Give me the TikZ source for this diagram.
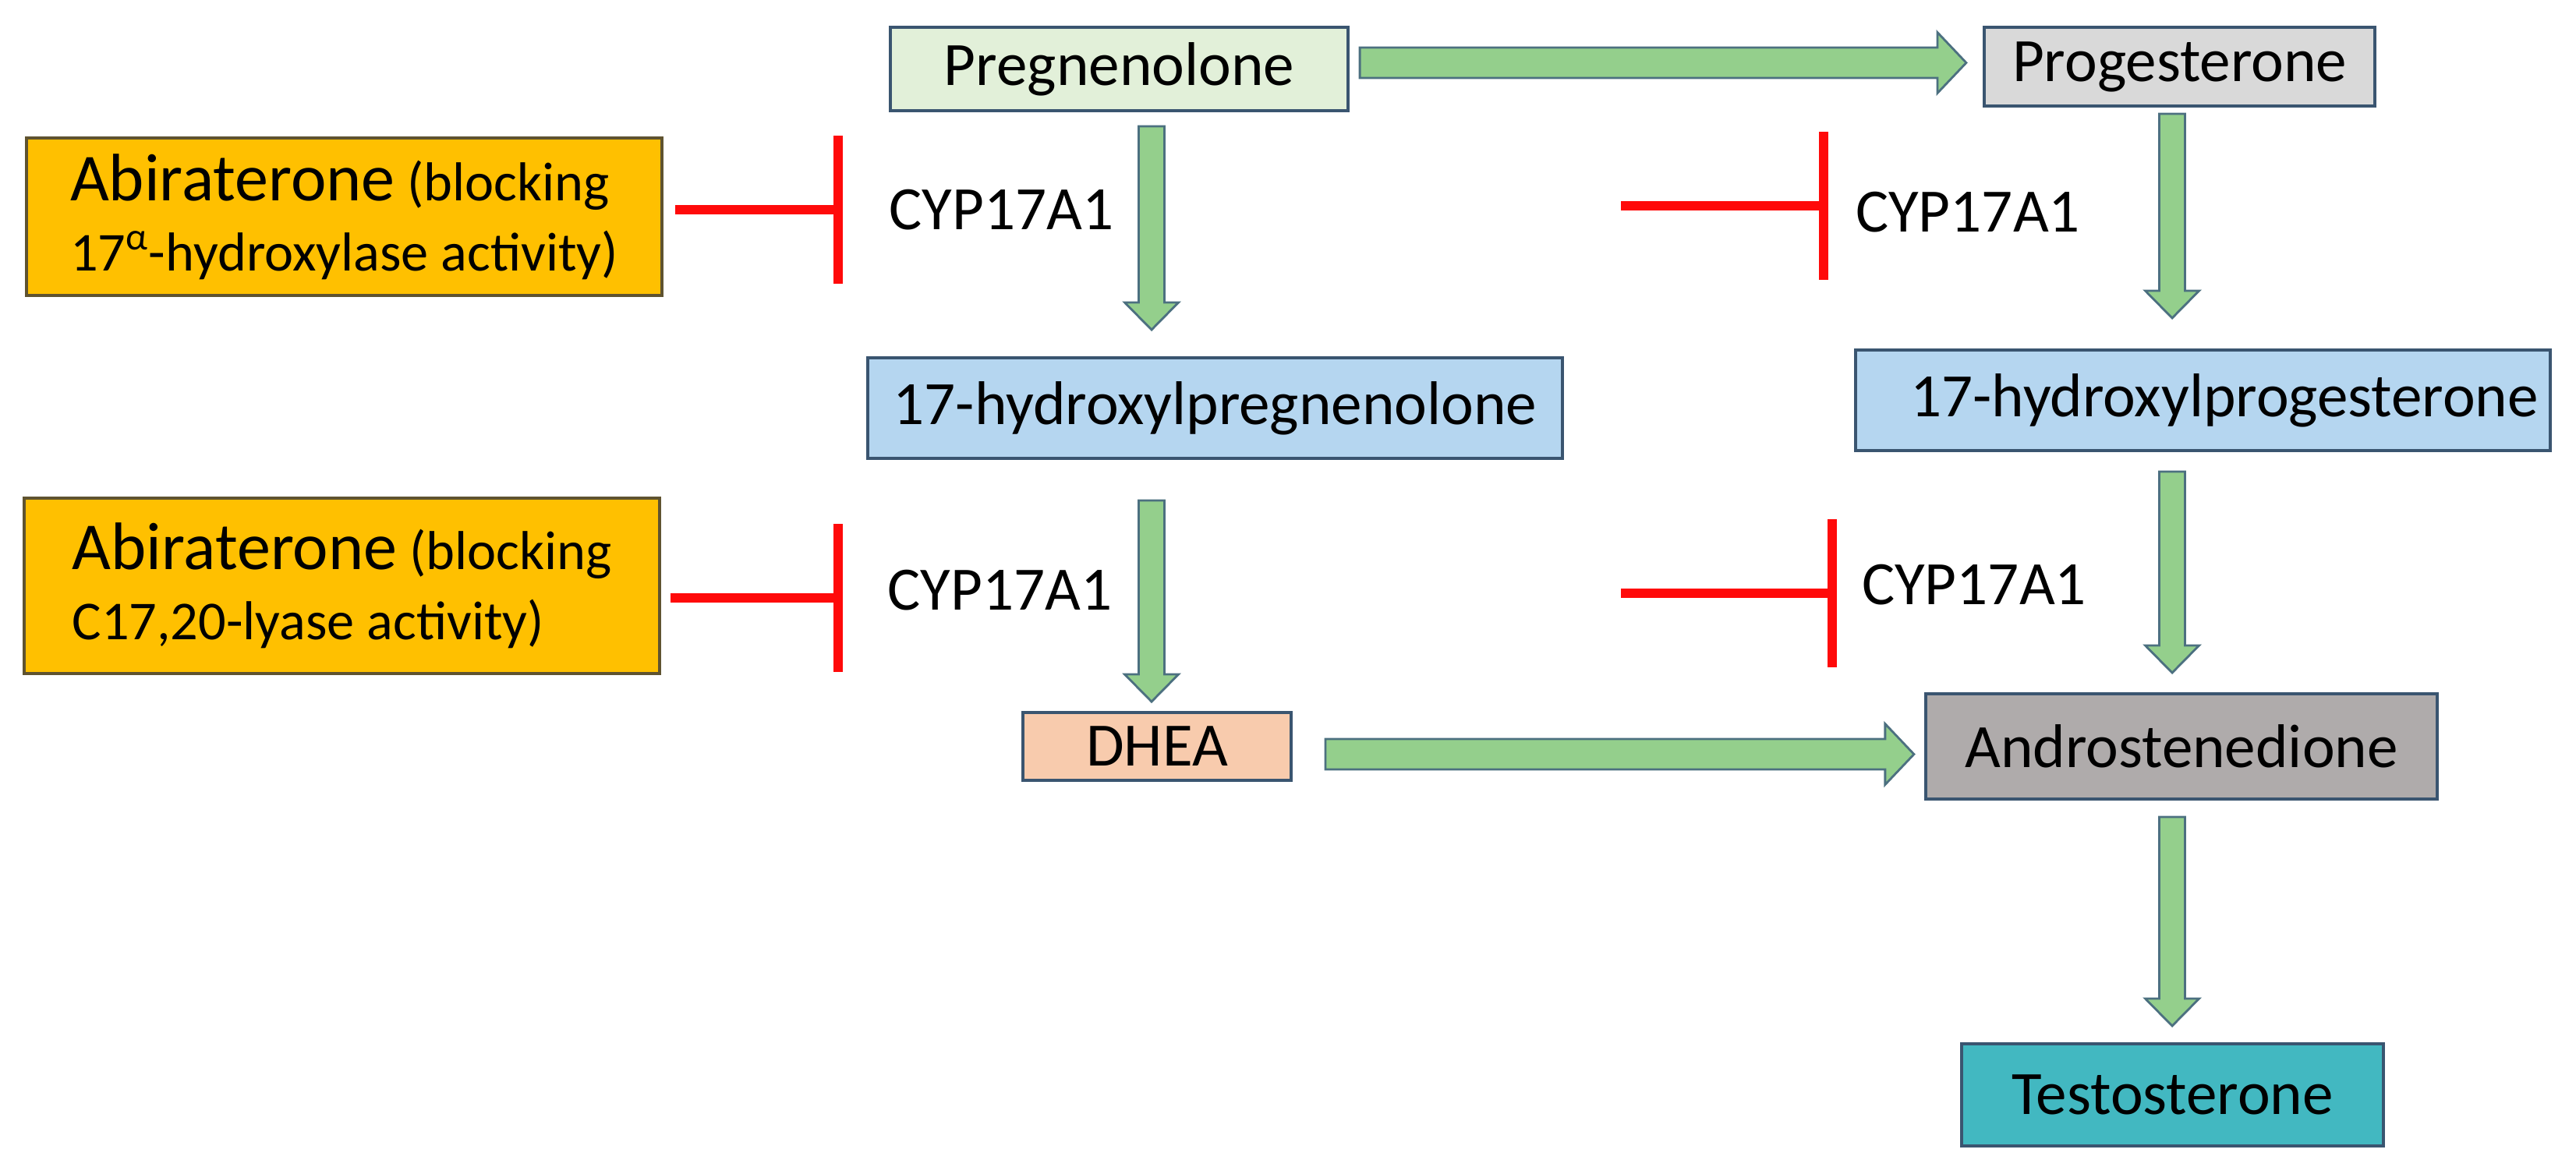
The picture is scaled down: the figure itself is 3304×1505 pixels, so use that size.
\documentclass[tikz,border=0pt]{standalone}
\usepackage{fontspec}
\setmainfont{Carlito}
\usetikzlibrary{positioning,calc,arrows.meta}

\definecolor{edge}{HTML}{3A5570}
\definecolor{abiedge}{HTML}{5F5330}
\definecolor{abifill}{HTML}{FFC000}
\definecolor{pregfill}{HTML}{E2F0D9}
\definecolor{progfill}{HTML}{D9D9D9}
\definecolor{ohfill}{HTML}{B5D6F0}
\definecolor{dheafill}{HTML}{F8CBAD}
\definecolor{androfill}{HTML}{AFABAB}
\definecolor{testofill}{HTML}{42B8C1}
\definecolor{flowfill}{HTML}{94CF8C}
\definecolor{flowedge}{HTML}{4C7080}
\definecolor{inhred}{HTML}{FF0A0A}

\def\vsw{0.165cm}\def\vhw{0.345cm}\def\vhl{0.35cm}
\def\hsw{0.195cm}\def\hhw{0.39cm}\def\hhl{0.37cm}

\newcommand{\flowdown}[5]{%
  \draw[flow] let \p1=(#2.south -| #1), \p2=(#3.north -| #1) in
    (\x1-\vsw,\y1-#4) -- (\x1+\vsw,\y1-#4) -- (\x1+\vsw,\y2+#5+\vhl)
    -- (\x1+\vhw,\y2+#5+\vhl) -- (\x1,\y2+#5) -- (\x1-\vhw,\y2+#5+\vhl)
    -- (\x1-\vsw,\y2+#5+\vhl) -- cycle;}
\newcommand{\flowright}[5]{%
  \draw[flow] let \p1=(#2.east |- #1), \p2=(#3.west |- #1) in
    (\x1+#4,\y1+\hsw) -- (\x2-#5-\hhl,\y1+\hsw) -- (\x2-#5-\hhl,\y1+\hhw)
    -- (\x2-#5,\y1) -- (\x2-#5-\hhl,\y1-\hhw) -- (\x2-#5-\hhl,\y1-\hsw)
    -- (\x1+#4,\y1-\hsw) -- cycle;}

\begin{document}
\begin{tikzpicture}
		[x=0.01cm,y=-0.01cm,
		box/.style={draw=edge,line width=1.1pt,inner sep=0pt,font=\fontsize{22.5}{27}\selectfont},
		abi/.style={draw=abiedge,fill=abifill,line width=1.1pt,inner sep=0pt,align=left,
			minimum width=8.15cm,font=\fontsize{20}{25.5}\selectfont},
		cyp/.style={inner sep=0pt,font=\fontsize{22.5}{27}\selectfont},
		flow/.style={draw=flowedge,fill=flowfill,line width=0.8pt},
		inhibit/.style={draw=inhred,line width=0.12cm},
		tee/.style={-{Bar[width=1.89cm]}}]
		\useasboundingbox (0,0) rectangle (3304,1505);
		\node[box,fill=pregfill,minimum width=5.87cm,minimum height=1.07cm] (preg) at (1435.5,88.5) {Pregnenolone};
		\node[box,fill=progfill,minimum width=5.01cm,minimum height=1.01cm] (prog) at (2795.5,85.5) {Progesterone};
		\node[box,fill=ohfill,minimum width=8.91cm,minimum height=1.29cm] (ohpreg) at (1558.5,523.5) {17-hydroxylpregnenolone};
		\node[box,fill=ohfill,minimum width=8.91cm,minimum height=1.29cm,text width=8.6cm,align=right] (ohprog) at (2825.5,513.5) {17-hydroxylprogesterone};
		\node[box,fill=dheafill,minimum width=3.44cm,minimum height=0.87cm] (dhea) at (1484,957.5) {DHEA};
		\node[box,fill=androfill,minimum width=6.56cm,minimum height=1.35cm] (andro) at (2798,957.5) {Androstenedione};
		\node[box,fill=testofill,minimum width=5.41cm,minimum height=1.31cm] (testo) at (2786.5,1404.5) {Testosterone};
		\node[abi,minimum height=2.02cm] (abiA) at (441.5,278)
			{{\fontsize{24.5}{25.5}\selectfont Abiraterone} (blocking\\17\textsuperscript{α}-hydroxylase activity)};
		\node[abi,minimum height=2.25cm] (abiB) at (438.5,751.5)
			{{\fontsize{24.5}{25.5}\selectfont Abiraterone} (blocking\\C17,20-lyase activity)};
		\node[cyp] (cypA) at (1284.5,269) {CYP17A1};
		\node[cyp] (cypB) at (1282.5,757) {CYP17A1};
		\node[cyp] (cypC) at (2524,272) {CYP17A1};
		\node[cyp] (cypD) at (2532,750) {CYP17A1};
		\coordinate (freeC) at (2079,264);
		\coordinate (freeD) at (2079,761);
		\coordinate (colL) at (1477,0);
		\coordinate (colR) at (2786,0);
		\coordinate (rowA) at (0,80.5);
		\coordinate (rowB) at (0,967.5);
		\flowright{rowA}{preg}{prog}{0.13cm}{0.21cm}
		\flowright{rowB}{dhea}{andro}{0.42cm}{0.13cm}
		\flowdown{colL}{preg}{ohpreg}{0.18cm}{0.34cm}
		\flowdown{colR}{prog}{ohprog}{0.08cm}{0.39cm}
		\flowdown{colL}{ohpreg}{dhea}{0.52cm}{0.12cm}
		\flowdown{colR}{ohprog}{andro}{0.25cm}{0.25cm}
		\flowdown{colR}{andro}{testo}{0.21cm}{0.21cm}
		\path[inhibit] 
		(abiA.east |- cypA.west) edge [tee,shorten <=0.15cm,shorten >=0.59cm] (cypA.west)
		([yshift=-0.1cm]abiB.east |- cypB.west) edge [tee,shorten <=0.12cm,shorten >=0.57cm] ([yshift=-0.1cm]cypB.west)
		(freeC) edge [tee,shorten >=0.34cm] (freeC -| cypC.west)
		(freeD) edge [tee,shorten >=0.31cm] (freeD -| cypD.west)
		;
\end{tikzpicture}
\end{document}
